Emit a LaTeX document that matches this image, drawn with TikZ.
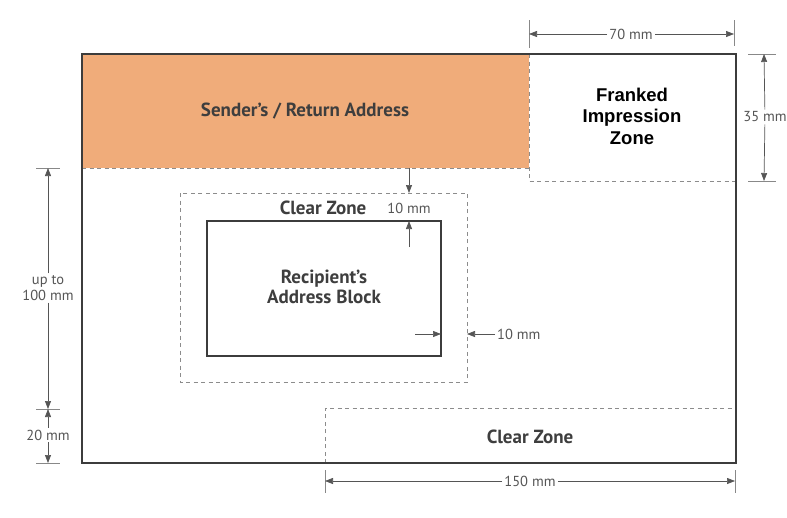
\documentclass[tikz,border=0pt]{standalone}
\usepackage{fontspec}
\setmainfont{PT Sans}
\newfontfamily\arialfont{Liberation Sans}
\usetikzlibrary{arrows.meta}
\definecolor{orangefill}{RGB}{240,172,122}
\definecolor{envgray}{RGB}{60,60,60}
\definecolor{dashgray}{RGB}{140,140,140}
\definecolor{dimgray}{RGB}{85,85,85}
\definecolor{labelgray}{RGB}{62,62,62}
\tikzset{
  envline/.style={draw=envgray, line width=1.3pt},
  zoneline/.style={draw=dashgray, line width=0.9pt, dash pattern=on 4pt off 3.5pt},
  tickline/.style={draw=dimgray!70, line width=0.7pt},
  dimarrow/.style={draw=dimgray, line width=0.7pt, -{Triangle[length=8pt,width=6pt]}},
  dimtext/.style={font=\fontsize{14.5}{15}\selectfont, text=dimgray, inner sep=2pt, fill=white},
  zonetext/.style={font=\bfseries\fontsize{19}{19.5}\selectfont, text=labelgray, align=center, inner sep=0pt},
  frankedtext/.style={font=\arialfont\bfseries\fontsize{18.5}{21.5}\selectfont, text=black, align=center, inner sep=0pt}
}
\begin{document}
\begin{tikzpicture}[x=1pt,y=-1pt]
\useasboundingbox (0,0) rectangle (787,517);
% envelope corners and zones
\coordinate (envTL) at (82,54);
\coordinate (envBR) at (736,463);
\coordinate (sendBR) at (529,168);
\fill[orangefill] (envTL) rectangle (sendBR);
% dashed zone lines
\coordinate (sendBL) at (82,168);
\coordinate (frankTL) at (529,54);
\coordinate (frankBL) at (529,181);
\coordinate (frankBR) at (736,181);
\draw[zoneline] (sendBL) -- (sendBR);
\draw[zoneline] (frankTL) -- (frankBL) -- (frankBR);
\coordinate (clearTL) at (180,193);
\coordinate (clearBR) at (467,382);
\draw[zoneline] (clearTL) rectangle (clearBR);
\coordinate (botBL) at (325,463);
\coordinate (botTL) at (325,408);
\coordinate (botTR) at (736,408);
\draw[zoneline] (botBL) -- (botTL) -- (botTR);
% recipient block
\coordinate (recTL) at (207,221);
\coordinate (recBR) at (441,356);
\draw[envline] (recTL) rectangle (recBR);
% envelope outline
\draw[envline] (envTL) rectangle (envBR);
% zone labels
\node[zonetext] (sender) at (305,111) {Sender’s / Return Address};
\node[frankedtext] (franked) at (632,116) {Franked\\Impression\\Zone};
\node[zonetext] (clearlbl) at (323,208) {Clear Zone};
\node[zonetext] (recipient) at (324,287) {Recipient’s\\Address Block};
\node[zonetext] (clearbot) at (530,437) {Clear Zone};
% 70 mm
\coordinate (t70La) at (529,20); \coordinate (t70Lb) at (529,48);
\coordinate (t70Ra) at (734,20); \coordinate (t70Rb) at (734,46);
\draw[tickline] (t70La) -- (t70Lb);
\draw[tickline] (t70Ra) -- (t70Rb);
\coordinate (a70L) at (529,34); \coordinate (a70R) at (734,34);
\node[dimtext] (d70) at (631,34) {70 mm};
\draw[dimarrow] (d70) -- (a70L);
\draw[dimarrow] (d70) -- (a70R);
% 35 mm
\coordinate (t35Ta) at (748,54); \coordinate (t35Tb) at (776,54);
\coordinate (t35Ba) at (748,181); \coordinate (t35Bb) at (776,181);
\draw[tickline] (t35Ta) -- (t35Tb);
\draw[tickline] (t35Ba) -- (t35Bb);
\coordinate (a35T) at (764,54); \coordinate (a35B) at (764,181);
\node[dimtext] (d35) at (765,117) {35 mm};
\draw[dimarrow] (d35) -- (a35T);
\draw[dimarrow] (d35) -- (a35B);
% up to 100 mm
\coordinate (tL1a) at (36,168); \coordinate (tL1b) at (60,168);
\coordinate (tL2a) at (36,409); \coordinate (tL2b) at (60,409);
\coordinate (tL3a) at (36,463); \coordinate (tL3b) at (60,463);
\draw[tickline] (tL1a) -- (tL1b);
\draw[tickline] (tL2a) -- (tL2b);
\draw[tickline] (tL3a) -- (tL3b);
\coordinate (a100T) at (48,168); \coordinate (a100B) at (48,409);
\node[dimtext, align=center, font=\fontsize{14.5}{15.5}\selectfont] (d100) at (48,288) {up to\\100 mm};
\draw[dimarrow] (d100) -- (a100T);
\draw[dimarrow] (d100) -- (a100B);
% 20 mm
\coordinate (a20T) at (48,409); \coordinate (a20B) at (48,463);
\node[dimtext] (d20) at (48,435) {20 mm};
\draw[dimarrow] (d20) -- (a20T);
\draw[dimarrow] (d20) -- (a20B);
% 150 mm
\coordinate (t150La) at (325,470); \coordinate (t150Lb) at (325,493);
\coordinate (t150Ra) at (735,470); \coordinate (t150Rb) at (735,493);
\draw[tickline] (t150La) -- (t150Lb);
\draw[tickline] (t150Ra) -- (t150Rb);
\coordinate (a150L) at (325,481); \coordinate (a150R) at (735,481);
\node[dimtext] (d150) at (530,481) {150 mm};
\draw[dimarrow] (d150) -- (a150L);
\draw[dimarrow] (d150) -- (a150R);
% 10 mm top
\coordinate (s10a) at (409,168); \coordinate (s10b) at (409,193);
\draw[dimarrow] (s10a) -- (s10b);
\node[dimtext, fill=none] (d10t) at (409,208) {10 mm};
\coordinate (u10a) at (409,247); \coordinate (u10b) at (409,221);
\draw[dimarrow] (u10a) -- (u10b);
% 10 mm right
\coordinate (r10a) at (415,334); \coordinate (r10b) at (441,334);
\draw[dimarrow] (r10a) -- (r10b);
\node[dimtext, anchor=west] (d10r) at (495,334) {10 mm};
\coordinate (r10c) at (467,334);
\draw[dimarrow] (d10r.west) -- (r10c);
\end{tikzpicture}
\end{document}
